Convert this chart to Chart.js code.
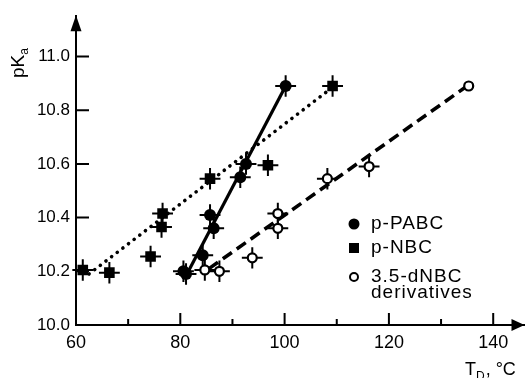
<!DOCTYPE html>
<html>
<head>
<meta charset="utf-8">
<script src="https://cdn.jsdelivr.net/npm/chart.js@4.4.1/dist/chart.umd.min.js"></script>
<style>
  html, body { margin: 0; padding: 0; background: #fff; }
  #wrap { width: 532px; height: 378px; position: relative; }
</style>
</head>
<body>
<div id="wrap"><canvas id="pkaChart"></canvas></div>
<script>
// p-PABC : filled circles, solid fit
const pabcT    = [80.6, 81.1, 84.3, 85.7, 86.4, 91.5, 92.6, 100.2];
const pabcPK   = [10.20, 10.19, 10.26, 10.41, 10.36, 10.55, 10.60, 10.89];
const pabcErrT = [2, 2, 2, 2, 2, 2, 2, 2];
const pabcErrP = [0.04, 0.04, 0.04, 0.04, 0.04, 0.04, 0.04, 0.04];

// p-NBC : filled squares, dotted fit
const nbcT    = [61.3, 66.4, 74.3, 76.6, 76.4, 85.7, 96.8, 109.2];
const nbcPK   = [10.205, 10.195, 10.255, 10.415, 10.365, 10.545, 10.595, 10.89];
const nbcErrT = [2, 2, 2, 2, 2, 2, 2, 2];
const nbcErrP = [0.04, 0.04, 0.04, 0.04, 0.04, 0.04, 0.04, 0.04];

// 3.5-dNBC derivatives : open circles, dashed fit
const dnbcT    = [84.7, 87.5, 93.8, 98.7, 98.7, 108.2, 116.2, 135.3];
const dnbcPK   = [10.205, 10.20, 10.25, 10.415, 10.36, 10.545, 10.59, 10.89];
const dnbcErrT = [2, 2, 2, 2, 2, 2, 2, 0];
const dnbcErrP = [0.04, 0.04, 0.04, 0.04, 0.04, 0.04, 0.04, 0];

// fitted lines (end points)
const pabcFitT = [81.0, 100.2];
const pabcFitP = [10.18, 10.89];
const nbcFitT  = [62.5, 108.5];
const nbcFitP  = [10.19, 10.875];
const dnbcFitT = [85.5, 135.0];
const dnbcFitP = [10.21, 10.89];

const xTicks = [60, 70, 80, 90, 100, 110, 120, 130, 140];
const yTicks = [10.0, 10.2, 10.4, 10.6, 10.8, 11.0];

const legendLabels = [['p-PABC'], ['p-NBC'], ['3.5-dNBC', 'derivatives']];

const FONT = 'Liberation Sans';

function pts(xs, ys) {
    return xs.map((x, i) => ({ x: x, y: ys[i] }));
}

// error crosses, drawn under the markers
const errorBars = {
    id: 'errorBars',
    beforeDatasetsDraw(chart) {
        const ctx = chart.ctx;
        const xs = chart.scales.x, ys = chart.scales.y;
        ctx.save();
        ctx.strokeStyle = '#000';
        ctx.lineWidth = 2;
        chart.data.datasets.forEach(ds => {
            if (!ds.errT) return;
            ds.data.forEach((p, i) => {
                const dx = ds.errT[i], dy = ds.errP[i];
                if (!dx && !dy) return;
                const cx = xs.getPixelForValue(p.x), cy = ys.getPixelForValue(p.y);
                ctx.beginPath();
                ctx.moveTo(xs.getPixelForValue(p.x - dx), cy);
                ctx.lineTo(xs.getPixelForValue(p.x + dx), cy);
                ctx.moveTo(cx, ys.getPixelForValue(p.y - dy));
                ctx.lineTo(cx, ys.getPixelForValue(p.y + dy));
                ctx.stroke();
            });
        });
        ctx.restore();
    }
};

// inward tick marks, arrows, axis titles and the legend
const decorations = {
    id: 'decorations',
    afterDraw(chart) {
        const ctx = chart.ctx;
        const xs = chart.scales.x, ys = chart.scales.y;
        const area = chart.chartArea;
        ctx.save();
        ctx.strokeStyle = '#000';
        ctx.fillStyle = '#000';
        ctx.lineWidth = 2;

        // ticks
        ctx.beginPath();
        yTicks.forEach(v => {
            if (v === 10.0) return;
            const y = ys.getPixelForValue(v);
            ctx.moveTo(area.left, y);
            ctx.lineTo(area.left + 13, y);
        });
        xTicks.forEach(v => {
            if (v === 60) return;
            const x = xs.getPixelForValue(v);
            const len = v % 20 === 0 ? 12 : 6;
            ctx.moveTo(x, area.bottom);
            ctx.lineTo(x, area.bottom - len);
        });
        ctx.stroke();

        // arrow heads
        ctx.beginPath();
        ctx.moveTo(area.left, area.top - 1);
        ctx.lineTo(area.left - 5.5, area.top + 15);
        ctx.lineTo(area.left + 5.5, area.top + 15);
        ctx.closePath();
        ctx.fill();
        ctx.beginPath();
        ctx.moveTo(area.right, area.bottom);
        ctx.lineTo(area.right - 13, area.bottom - 6);
        ctx.lineTo(area.right - 13, area.bottom + 6);
        ctx.closePath();
        ctx.fill();

        // y title pK_a
        ctx.save();
        ctx.translate(24, 78);
        ctx.rotate(-Math.PI / 2);
        ctx.font = '19px ' + FONT;
        ctx.textAlign = 'left';
        ctx.textBaseline = 'alphabetic';
        ctx.fillText('pK', 0, 0);
        const w = ctx.measureText('pK').width;
        ctx.font = '12px ' + FONT;
        ctx.fillText('a', w, 4);
        ctx.restore();

        // x title T_D, °C
        ctx.font = '18px ' + FONT;
        ctx.textAlign = 'left';
        ctx.textBaseline = 'alphabetic';
        ctx.fillText('T', 465, 375);
        let tx = 465 + ctx.measureText('T').width;
        ctx.font = '12px ' + FONT;
        ctx.fillText('D', tx, 380);
        tx += ctx.measureText('D').width + 1;
        ctx.font = '18px ' + FONT;
        ctx.fillText(', °C', tx, 375);

        // legend
        const mx = 354, lx = 371;
        const rows = [224, 248, 277];
        ctx.font = '19px ' + FONT;
        ctx.letterSpacing = '1px';
        ctx.textBaseline = 'middle';
        legendLabels.forEach((lines, i) => {
            lines.forEach((t, j) => ctx.fillText(t, lx, rows[i] + j * 16));
        });
        ctx.letterSpacing = '0px';
        ctx.beginPath();
        ctx.arc(mx, rows[0], 5.5, 0, Math.PI * 2);
        ctx.fill();
        ctx.fillRect(mx - 5, rows[1] - 5, 10, 10);
        ctx.beginPath();
        ctx.arc(mx, rows[2], 4, 0, Math.PI * 2);
        ctx.lineWidth = 2;
        ctx.stroke();
        ctx.restore();
    }
};

const ctx = document.getElementById('pkaChart').getContext('2d');
const pkaChart = new Chart(ctx, {
    type: 'scatter',
    data: {
        datasets: [
            {
                label: 'p-PABC',
                data: pts(pabcT, pabcPK),
                errT: pabcErrT, errP: pabcErrP,
                pointStyle: 'circle',
                pointRadius: 6,
                backgroundColor: '#000',
                borderColor: '#000',
                borderWidth: 0,
                order: 1
            },
            {
                label: 'p-NBC',
                data: pts(nbcT, nbcPK),
                errT: nbcErrT, errP: nbcErrP,
                pointStyle: 'rect',
                pointRadius: 7.5,
                backgroundColor: '#000',
                borderColor: '#000',
                borderWidth: 0,
                order: 2
            },
            {
                label: '3.5-dNBC derivatives',
                data: pts(dnbcT, dnbcPK),
                errT: dnbcErrT, errP: dnbcErrP,
                pointStyle: 'circle',
                pointRadius: 4.5,
                backgroundColor: '#fff',
                borderColor: '#000',
                borderWidth: 2.2,
                order: 3
            },
            {
                label: 'fit p-PABC',
                data: pts(pabcFitT, pabcFitP),
                showLine: true,
                pointRadius: 0,
                borderColor: '#000',
                borderWidth: 3.2,
                order: 4
            },
            {
                label: 'fit p-NBC',
                data: pts(nbcFitT, nbcFitP),
                showLine: true,
                pointRadius: 0,
                borderColor: '#000',
                borderWidth: 3.6,
                borderCapStyle: 'round',
                borderDash: [0.1, 7],
                order: 5
            },
            {
                label: 'fit 3.5-dNBC',
                data: pts(dnbcFitT, dnbcFitP),
                showLine: true,
                pointRadius: 0,
                borderColor: '#000',
                borderWidth: 3.6,
                borderDash: [11, 6],
                order: 6
            }
        ]
    },
    options: {
        responsive: true,
        maintainAspectRatio: false,
        animation: false,
        events: [],
        layout: { padding: { top: 13, right: 0, left: 0, bottom: 0 } },
        plugins: {
            legend: { display: false },
            tooltip: { enabled: false }
        },
        scales: {
            x: {
                type: 'linear',
                min: 60,
                max: 146,
                afterFit: s => { s.height = 53; },
                afterBuildTicks: s => { s.ticks = xTicks.map(v => ({ value: v })); },
                grid: { display: false, drawTicks: false },
                border: { display: true, color: '#000', width: 2 },
                ticks: {
                    autoSkip: false,
                    maxRotation: 0,
                    padding: 7,
                    color: '#000',
                    font: { family: FONT, size: 18 },
                    callback: v => (v % 20 === 0 ? String(v) : '')
                }
            },
            y: {
                type: 'linear',
                min: 10.0,
                max: 11.15,
                afterFit: s => { s.width = 76; },
                afterBuildTicks: s => { s.ticks = yTicks.map(v => ({ value: v })); },
                grid: { display: false, drawTicks: false },
                border: { display: true, color: '#000', width: 2 },
                ticks: {
                    padding: 6,
                    color: '#000',
                    font: { family: FONT, size: 17 },
                    callback: v => v.toFixed(1)
                }
            }
        }
    },
    plugins: [errorBars, decorations]
});
</script>
</body>
</html>
